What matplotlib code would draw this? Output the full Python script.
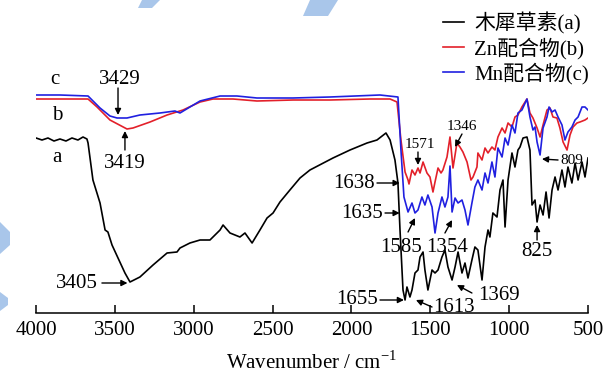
import matplotlib
matplotlib.use("Agg")
import matplotlib.pyplot as plt
from matplotlib.patches import Polygon

plt.rcParams["font.family"] = ["Liberation Serif", "Noto Sans CJK SC"]
plt.rcParams["mathtext.fontset"] = "custom"
plt.rcParams["mathtext.rm"] = "Liberation Serif"

# ---- spectra: wavenumber (cm-1) and relative transmittance (a.u.) ----
wn_a = [4000, 3962, 3924, 3886, 3848, 3810, 3772, 3734, 3702, 3677,
        3670, 3639, 3594, 3562, 3544, 3518, 3480, 3436, 3404, 3341,
        3258, 3169, 3106, 3087, 3024, 2960, 2897, 2833, 2814, 2770,
        2707, 2675, 2630, 2580, 2535, 2497, 2453, 2390, 2326, 2263,
        2117, 2009, 1901, 1838, 1781, 1755, 1724, 1705, 1692, 1673,
        1660, 1648, 1629, 1616, 1597, 1578, 1565, 1546, 1534, 1515,
        1489, 1470, 1451, 1426, 1407, 1388, 1362, 1343, 1324, 1299,
        1280, 1261, 1236, 1217, 1198, 1172, 1153, 1134, 1122, 1103,
        1077, 1058, 1039, 1026, 1007, 982, 963, 944, 931, 912,
        887, 868, 855, 836, 823, 804, 785, 766, 747, 728,
        709, 690, 665, 646, 627, 602, 582, 563, 538, 519, 500]
t_a = [175, 173, 175, 172, 174, 172, 175, 173, 176, 174,
       170, 133, 110, 83, 81, 68, 55, 40, 31, 36,
       48, 60, 61, 65, 70, 73, 73, 83, 88, 80,
       76, 80, 70, 83, 95, 100, 111, 123, 135, 143,
       155, 163, 170, 173, 180, 173, 153, 130, 83, 23,
       13, 26, 16, 23, 40, 43, 56, 61, 43, 23,
       43, 40, 43, 56, 63, 46, 33, 46, 61, 40,
       50, 35, 53, 66, 63, 33, 66, 83, 76, 100,
       96, 123, 133, 86, 133, 160, 146, 163, 166, 175,
       176, 163, 108, 113, 91, 108, 98, 121, 95, 123,
       136, 123, 143, 126, 146, 130, 150, 133, 151, 136, 155]

wn_b = [4000, 3848, 3670, 3613, 3531, 3423, 3385, 3277, 3169, 3068,
        2960, 2878, 2751, 2599, 2370, 2136, 1882, 1755, 1711, 1686,
        1660, 1641, 1635, 1616, 1597, 1578, 1565, 1546, 1521, 1502,
        1483, 1470, 1451, 1432, 1420, 1394, 1375, 1356, 1331, 1312,
        1293, 1267, 1242, 1229, 1204, 1198, 1172, 1153, 1134, 1109,
        1090, 1071, 1045, 1026, 1007, 982, 963, 944, 919, 887,
        868, 849, 823, 804, 785, 760, 741, 722, 697, 678,
        658, 633, 614, 595, 570, 551, 519, 500]
t_b = [214, 214, 214, 206, 193, 184, 185, 191, 198, 203,
       211, 214, 214, 212, 213, 213, 214, 214, 211, 173,
       141, 133, 129, 143, 138, 145, 140, 151, 140, 136,
       121, 131, 145, 140, 143, 156, 176, 145, 170, 166,
       161, 151, 133, 136, 146, 160, 153, 165, 160, 166,
       163, 176, 185, 180, 190, 186, 196, 198, 206, 214,
       200, 195, 185, 176, 188, 203, 205, 196, 195, 185,
       171, 163, 178, 186, 190, 191, 193, 195]

wn_c = [4000, 3848, 3670, 3594, 3531, 3486, 3423, 3341, 3214, 3119,
        3087, 3024, 2960, 2833, 2726, 2599, 2370, 2136, 1819, 1705,
        1686, 1667, 1641, 1616, 1597, 1578, 1553, 1534, 1515, 1489,
        1470, 1451, 1426, 1407, 1388, 1375, 1362, 1343, 1324, 1299,
        1280, 1261, 1236, 1217, 1198, 1172, 1153, 1134, 1109, 1090,
        1071, 1045, 1026, 1007, 982, 963, 944, 919, 887, 868,
        849, 836, 823, 804, 785, 760, 747, 728, 709, 690,
        665, 646, 627, 602, 582, 563, 538, 519, 500]
t_c = [218, 218, 217, 205, 197, 195, 195, 198, 200, 202,
       200, 206, 212, 217, 217, 215, 215, 216, 218, 216,
       163, 116, 101, 110, 100, 103, 116, 108, 118, 106,
       80, 100, 116, 106, 116, 147, 101, 115, 110, 113,
       103, 88, 110, 126, 133, 123, 140, 130, 151, 136,
       165, 156, 175, 168, 188, 180, 200, 203, 214, 196,
       183, 186, 171, 158, 185, 196, 206, 201, 203, 196,
       188, 173, 181, 186, 193, 196, 206, 206, 203]

labels = ["木犀草素(a)", "Zn配合物(b)", "Mn配合物(c)"]
colors = ["black", "#e3202a", "#2020e0"]
xticks = [4000, 3500, 3000, 2500, 2000, 1500, 1000, 500]

# peak labels: text, text position, arrow tail, arrow head, size, alignment
peaks = [
    ("3429", (3467, 233), (3480, 225), (3480, 198), 15, "center"),
    ("3419", (3436, 150), (3436, 163), (3436, 182), 15, "center"),
    ("3405", (3740, 30), (3582, 30), (3420, 30), 15, "center"),
    ("1638", (1851, 130), (1838, 130), (1694, 130), 15, "right"),
    ("1635", (1800, 100), (1787, 100), (1694, 100), 15, "right"),
    ("1655", (1832, 13), (1819, 13), (1667, 13), 15, "right"),
    ("1613", (1483, 6), (1489, 6), (1591, 13), 15, "left"),
    ("1369", (1198, 18), (1236, 20), (1331, 28), 15, "left"),
    ("1585", (1686, 66), (1641, 81), (1597, 95), 15, "center"),
    ("1354", (1394, 66), (1407, 80), (1362, 93), 15, "center"),
    ("825", (823, 61), (823, 73), (823, 88), 15, "center"),
    ("1571", (1565, 168), (1578, 161), (1578, 148), 11, "center"),
    ("1346", (1299, 186), (1299, 179), (1343, 166), 11, "center"),
    ("809", (678, 153), (690, 153), (792, 154), 11, "left"),
]
curve_tags = [("c", (3880, 233)), ("b", (3867, 198)), ("a", (3867, 156))]

fig = plt.figure(figsize=(6.05, 3.74), dpi=100)

# light-blue page marks
for pts in [
    [(142, 0), (160, 0), (152, 8), (138, 8)],
    [(310, 0), (338, 0), (328, 16), (303, 16)],
    [(0, 222), (10, 232), (10, 245), (0, 254)],
    [(0, 292), (8, 298), (8, 305), (0, 311)],
]:
    fig.patches.append(Polygon([(x / 605, 1 - y / 374) for x, y in pts],
                               closed=True, transform=fig.transFigure,
                               facecolor="#a9c6ea", edgecolor="none", zorder=0))

ax = fig.add_axes([36 / 605, 61 / 374, 552 / 605, 313 / 374])
ax.patch.set_alpha(0)

handles = []
for wn, t, c, lab in zip([wn_a, wn_b, wn_c], [t_a, t_b, t_c], colors, labels):
    (ln,) = ax.plot(wn, t, color=c, lw=1.2, label=lab, solid_joinstyle="round")
    handles.append(ln)

ax.set_xlim(4000, 500)
ax.set_ylim(0, 313)
for s in ("left", "right", "top"):
    ax.spines[s].set_visible(False)
ax.spines["bottom"].set_linewidth(1.1)
ax.set_yticks([])
ax.set_xticks(xticks)
ax.set_xticklabels([str(v) for v in xticks])
ax.tick_params(axis="x", direction="in", length=6, width=1.1, labelsize=15, pad=6)
ax.set_xlabel("Wavenumber / cm$^{-1}$", fontsize=15, labelpad=8)

for txt, tpos, tail, head, fs, ha in peaks:
    ax.text(tpos[0], tpos[1], txt, fontsize=fs, ha=ha, va="center", clip_on=False)
    ax.annotate("", xy=head, xytext=tail,
                arrowprops=dict(arrowstyle="-|>", color="black", lw=1.0,
                                mutation_scale=9, shrinkA=0, shrinkB=0))

for tag, pos in curve_tags:
    ax.text(pos[0], pos[1], tag, fontsize=15, ha="center", va="center")

ax.legend(handles=handles, labels=labels, loc="upper left",
          bbox_to_anchor=(443 / 605, 1 - 12 / 374), bbox_transform=fig.transFigure,
          frameon=False, fontsize=15, handlelength=1.0, handletextpad=0.5,
          labelspacing=0.15, borderpad=0, borderaxespad=0)

fig.savefig("out.png", dpi=100)
